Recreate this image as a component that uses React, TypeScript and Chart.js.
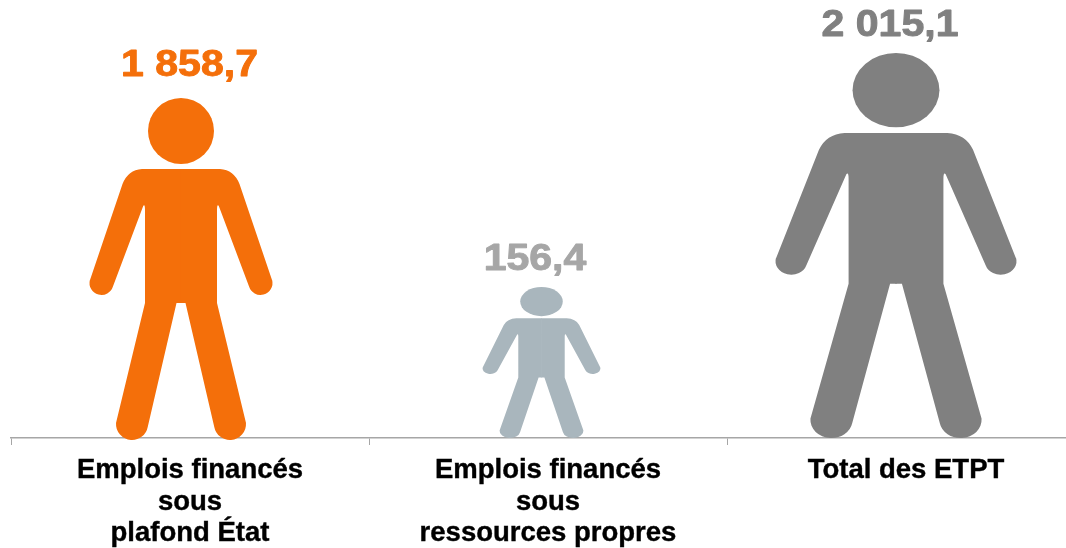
import React, { useEffect, useRef } from "react";
import { Chart, registerables } from "chart.js";

Chart.register(...registerables);

const categories = [
  ["Emplois financés", "sous", "plafond État"],
  ["Emplois financés", "sous", "ressources propres"],
  ["Total des ETPT"],
];
const valueLabels = ["1 858,7", "156,4", "2 015,1"];
// Values are shown as text; each pictogram's drawn height is read from the picture (not proportional).
const pictogramHeights = [340, 151, 385];
const figureColors = ["#F46F0A", "#A9B6BD", "#808080"];
const labelColors = ["#F46F0A", "#A6A6A6", "#808080"];

// pictogram styling
const figureWidths = [183, 118, 241];
const figureShift = [-9, -6.5, -10];
const figureSink = [2, 0, 0];
const labelShift = [-0.5, -13, -16];
const labelGap = [22, 17, 17];

const NATIVE_W = 183;
const NATIVE_H = 342;

function halfBody(ctx: CanvasRenderingContext2D) {
  ctx.beginPath();
  ctx.moveTo(0.5, 71);
  ctx.lineTo(-39, 71);
  ctx.quadraticCurveTo(-53, 72, -58.5, 86);
  ctx.lineTo(-91, 182);
  ctx.arc(-79.5, 185, 12, Math.atan2(-3, -11.5), Math.atan2(3.7, 11.8), true);
  ctx.lineTo(-37.7, 107.7);
  ctx.quadraticCurveTo(-36, 105.5, -36, 112);
  ctx.lineTo(-36, 205);
  ctx.lineTo(-65, 325);
  ctx.arc(-49, 326, 16, Math.atan2(-1, -16), Math.atan2(3, 16), true);
  ctx.lineTo(-4.5, 205);
  ctx.lineTo(0.5, 205);
  ctx.closePath();
  ctx.fill();
}

const pictogramPlugin = {
  id: "pictogram",
  beforeDatasetDraw(chart: any, args: any) {
    const { ctx } = chart;
    args.meta.data.forEach((bar: any, i: number) => {
      const bottom = bar.base + figureSink[i];
      const top = bar.y;
      ctx.save();
      ctx.fillStyle = bar.options.backgroundColor;
      ctx.translate(bar.x + figureShift[i], top);
      ctx.scale(figureWidths[i] / NATIVE_W, (bottom - top) / NATIVE_H);
      ctx.beginPath();
      ctx.ellipse(0, 33, 33, 33, 0, 0, Math.PI * 2);
      ctx.fill();
      halfBody(ctx);
      ctx.scale(-1, 1);
      halfBody(ctx);
      ctx.restore();
    });
    return false;
  },
  afterDatasetsDraw(chart: any) {
    const { ctx } = chart;
    chart.getDatasetMeta(0).data.forEach((bar: any, i: number) => {
      ctx.save();
      ctx.translate(bar.x + labelShift[i], bar.y - labelGap[i]);
      ctx.scale(1.14, 1);
      ctx.font = "bold 36px 'Liberation Sans'";
      ctx.textAlign = "center";
      ctx.textBaseline = "alphabetic";
      ctx.fillStyle = labelColors[i];
      ctx.strokeStyle = labelColors[i];
      ctx.lineWidth = 0.9;
      ctx.lineJoin = "round";
      ctx.strokeText(valueLabels[i], 0, 0);
      ctx.fillText(valueLabels[i], 0, 0);
      ctx.restore();
    });
  },
};

export default function App() {
  const ref = useRef<HTMLCanvasElement>(null);
  useEffect(() => {
    const chart = new Chart(ref.current!, {
      type: "bar",
      data: {
        labels: categories,
        datasets: [{ data: pictogramHeights, backgroundColor: figureColors, borderWidth: 0 }],
      },
      plugins: [pictogramPlugin],
      options: {
        animation: false,
        responsive: false,
        layout: { padding: { left: 11, right: 5, top: 0, bottom: 0 } },
        plugins: { legend: { display: false }, tooltip: { enabled: false } },
        scales: {
          y: { display: false, min: 0, max: 438 },
          x: {
            afterFit(scale: any) {
              scale.height = 110;
            },
            border: { color: "#A6A6A6", width: 1.5 },
            grid: {
              drawOnChartArea: false,
              drawTicks: true,
              tickLength: 7,
              color: "#A6A6A6",
              lineWidth: 1,
            },
            ticks: {
              color: "#000000",
              autoSkip: false,
              maxRotation: 0,
              minRotation: 0,
              padding: 10,
              textStrokeColor: "#000000",
              textStrokeWidth: 0.4,
              font: { family: "'Liberation Sans'", size: 27.5, weight: "bold", lineHeight: "31.5px" },
            },
          },
        },
      } as any,
    });
    return () => chart.destroy();
  }, []);
  return (
    <div style={{ position: "fixed", left: 0, top: 0, width: 1066, height: 548, overflow: "hidden", background: "#fff" }}>
      <canvas ref={ref} width={1090} height={548} style={{ display: "block" }} />
    </div>
  );
}
